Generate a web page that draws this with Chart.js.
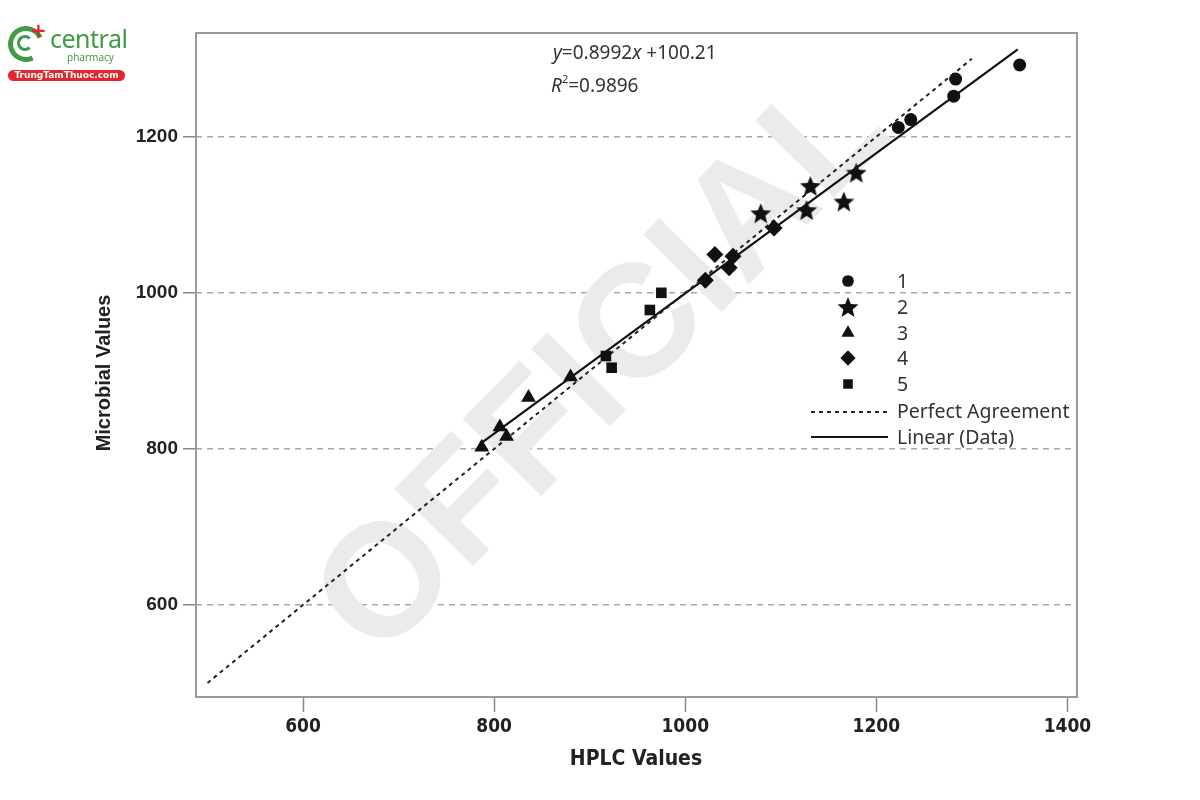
<!DOCTYPE html>
<html>
<head>
<meta charset="utf-8">
<script src="https://cdn.jsdelivr.net/npm/chart.js@4.4.0/dist/chart.umd.min.js"></script>
<style>
  body { margin: 0; background: #fff; }
  #wrap { position: relative; width: 1200px; height: 800px; }
  #logo { position: absolute; left: 0; top: 0; width: 140px; height: 90px; font-family: "Noto Sans", sans-serif; }
  #logo .ring { position: absolute; left: 8px; top: 26px; width: 26px; height: 26px; border: 5px solid #3f9b46; border-right-color: transparent; border-radius: 50%; transform: rotate(20deg); }
  #logo .ring2 { position: absolute; left: 17px; top: 35px; width: 10px; height: 10px; border: 3px solid #3f9b46; border-right-color: transparent; border-radius: 50%; }
  #logo .plus { position: absolute; left: 30px; top: 18px; color: #e3262d; font: bold 20px "DejaVu Sans", sans-serif; }
  #logo .brand { position: absolute; left: 50px; top: 24px; color: #3f9b46; font-size: 25px; line-height: 28px; letter-spacing: -0.5px; }
  #logo .sub { position: absolute; left: 67px; top: 51px; color: #3f9b46; font-size: 10px; line-height: 12px; }
  #logo .pill { position: absolute; left: 8px; top: 70px; width: 117px; height: 11px; background: #e3262d; border-radius: 6px; color: #fff; font: bold 9px "DejaVu Sans", sans-serif; line-height: 11px; text-align: center; }
</style>
</head>
<body>
<div id="wrap">
  <canvas id="chart" width="1200" height="800"></canvas>
  <div id="logo">
    <div class="ring"></div><div class="ring2"></div><div class="plus">+</div>
    <div class="brand">central</div>
    <div class="sub">pharmacy</div>
    <div class="pill">TrungTamThuoc.com</div>
  </div>
</div>
<script>
// values
const seriesNames = ['1', '2', '3', '4', '5'];
const hplc1 = [1223, 1236, 1281, 1283, 1350];
const micro1 = [1212, 1222, 1252, 1274, 1292];
const hplc2 = [1079, 1127, 1131, 1166, 1179];
const micro2 = [1102, 1106, 1137, 1117, 1154];
const hplc3 = [787, 806, 813, 836, 880];
const micro3 = [802, 828, 816, 866, 892];
const hplc4 = [1021, 1031, 1046, 1050, 1093];
const micro4 = [1016, 1049, 1032, 1047, 1083];
const hplc5 = [917, 923, 963, 975];
const micro5 = [919, 904, 978, 1000];
const perfectX = [500, 1300];
const perfectY = [500, 1300];
const fitX = [785, 1348];
const fitY = [806, 1312];
const xTicks = [600, 800, 1000, 1200, 1400];
const yTicks = [600, 800, 1000, 1200];

function pts(xs, ys) {
  return xs.map((x, i) => ({ x: x, y: ys[i] }));
}

// filled star marker (built-in 'star' is only an asterisk)
function starImage(r) {
  const c = document.createElement('canvas');
  c.width = c.height = Math.ceil(r * 2 + 2);
  const g = c.getContext('2d');
  const cx = c.width / 2, cy = c.height / 2 + 1;
  g.beginPath();
  for (let i = 0; i < 10; i++) {
    const rad = i % 2 === 0 ? r : r * 0.44;
    const a = -Math.PI / 2 + i * Math.PI / 5;
    g.lineTo(cx + rad * Math.cos(a), cy + rad * Math.sin(a));
  }
  g.closePath();
  g.fillStyle = '#111';
  g.fill();
  return c;
}
const star = starImage(11);

const black = '#111';
const markers = [
  { style: 'circle', radius: 6.5 },
  { style: star, radius: 10 },
  { style: 'triangle', radius: 8.5 },
  { style: 'rectRot', radius: 8.5 },
  { style: 'rect', radius: 7.5 }
];
const seriesData = [pts(hplc1, micro1), pts(hplc2, micro2), pts(hplc3, micro3), pts(hplc4, micro4), pts(hplc5, micro5)];

const datasets = seriesData.map((d, i) => ({
  label: seriesNames[i],
  data: d,
  pointStyle: markers[i].style,
  pointRadius: markers[i].radius,
  pointHoverRadius: markers[i].radius,
  backgroundColor: black,
  borderColor: black,
  borderWidth: 0,
  showLine: false
}));
datasets.push({
  label: 'Perfect Agreement',
  data: pts(perfectX, perfectY),
  showLine: true,
  pointRadius: 0,
  borderColor: '#222',
  borderWidth: 2,
  borderDash: [4, 4]
});
datasets.push({
  label: 'Linear (Data)',
  data: pts(fitX, fitY),
  showLine: true,
  pointRadius: 0,
  borderColor: '#111',
  borderWidth: 2.2
});

const font = '"Noto Sans", "Open Sans", sans-serif';

// frame, watermark, equation, legend, axis titles
const decor = {
  id: 'decor',
  beforeDatasetsDraw(chart) {
    const ctx = chart.ctx;
    ctx.save();
    ctx.translate(605, 368);
    ctx.rotate(-Math.PI / 4 - 0.01);
    ctx.fillStyle = '#ebebeb';
    ctx.font = 'bold 160px "Liberation Sans", sans-serif';
    ctx.textAlign = 'center';
    ctx.textBaseline = 'middle';
    ctx.fillText('OFFICIAL', 0, 0);
    ctx.restore();
  },
  afterDraw(chart) {
    const ctx = chart.ctx, a = chart.chartArea;
    ctx.save();
    ctx.strokeStyle = '#9a9a9a';
    ctx.lineWidth = 2;
    ctx.strokeRect(a.left, a.top, a.right - a.left, a.bottom - a.top);

    // regression equation
    ctx.fillStyle = '#333';
    ctx.textBaseline = 'alphabetic';
    ctx.textAlign = 'left';
    let x = 553;
    const parts = [['y', true], ['=0.8992', false], ['x', true], [' +100.21', false]];
    parts.forEach(p => {
      ctx.font = (p[1] ? 'italic ' : '') + '19px ' + font;
      ctx.fillText(p[0], x, 59);
      x += ctx.measureText(p[0]).width;
    });
    x = 551;
    ctx.font = 'italic 19px ' + font;
    ctx.fillText('R', x, 92);
    x += ctx.measureText('R').width;
    ctx.font = '11px ' + font;
    ctx.fillText('2', x, 83);
    x += ctx.measureText('2').width;
    ctx.font = '19px ' + font;
    ctx.fillText('=0.9896', x, 92);

    // legend
    const rows = [281, 307, 333, 358, 384];
    const helpers = Chart.helpers;
    markers.forEach((m, i) => {
      ctx.fillStyle = black;
      ctx.strokeStyle = black;
      helpers.drawPoint(ctx, { pointStyle: m.style, radius: m.radius * 0.9, borderWidth: 0, rotation: 0 }, 848, rows[i]);
      ctx.fillStyle = '#333';
      ctx.font = '19.5px ' + font;
      ctx.textBaseline = 'middle';
      ctx.fillText(seriesNames[i], 897, rows[i] + 1);
    });
    ctx.lineWidth = 2;
    ctx.strokeStyle = '#222';
    ctx.setLineDash([4, 4]);
    ctx.beginPath(); ctx.moveTo(811, 412); ctx.lineTo(888, 412); ctx.stroke();
    ctx.setLineDash([]);
    ctx.strokeStyle = '#111';
    ctx.beginPath(); ctx.moveTo(811, 437); ctx.lineTo(888, 437); ctx.stroke();
    ctx.fillStyle = '#333';
    ctx.fillText('Perfect Agreement', 897, 412);
    ctx.fillText('Linear (Data)', 897, 438);

    // axis titles
    ctx.fillStyle = '#222';
    ctx.textAlign = 'center';
    ctx.font = 'bold 21px "Liberation Sans Narrow", "DejaVu Sans Condensed", sans-serif';
    ctx.fillText('HPLC Values', 636, 760);
    ctx.translate(104, 373);
    ctx.rotate(-Math.PI / 2);
    ctx.font = 'bold 20px "Liberation Sans", sans-serif';
    ctx.fillText('Microbial Values', 0, 0);
    ctx.restore();
  }
};

new Chart(document.getElementById('chart'), {
  type: 'scatter',
  data: { datasets: datasets },
  options: {
    responsive: false,
    animation: false,
    events: [],
    layout: { padding: { top: 33, right: 123, left: 0, bottom: 0 } },
    plugins: { legend: { display: false }, tooltip: { enabled: false } },
    scales: {
      x: {
        type: 'linear',
        min: 488,
        max: 1410,
        afterBuildTicks: s => { s.ticks = xTicks.map(v => ({ value: v })); },
        afterFit: s => { s.height = 103; },
        grid: { drawOnChartArea: false, drawTicks: true, tickLength: 15, tickColor: '#888', tickWidth: 1.5 },
        border: { display: false },
        ticks: {
          padding: 4,
          color: '#222',
          callback: v => String(v),
          font: { family: '"Liberation Sans Narrow", "DejaVu Sans Condensed", sans-serif', size: 19, weight: 'bold' },
          maxRotation: 0
        }
      },
      y: {
        type: 'linear',
        min: 482,
        max: 1333,
        afterBuildTicks: s => { s.ticks = yTicks.map(v => ({ value: v })); },
        afterFit: s => { s.width = 196; },
        grid: { color: '#a8a8a8', lineWidth: 1.5, tickLength: 13, tickColor: '#888', tickWidth: 1.5, tickBorderDash: [] },
        border: { display: false, dash: [6, 5] },
        ticks: {
          padding: 5,
          color: '#222',
          callback: v => String(v),
          font: { family: '"Liberation Sans", sans-serif', size: 19, weight: 'bold' }
        }
      }
    }
  },
  plugins: [decor]
});
</script>
</body>
</html>
